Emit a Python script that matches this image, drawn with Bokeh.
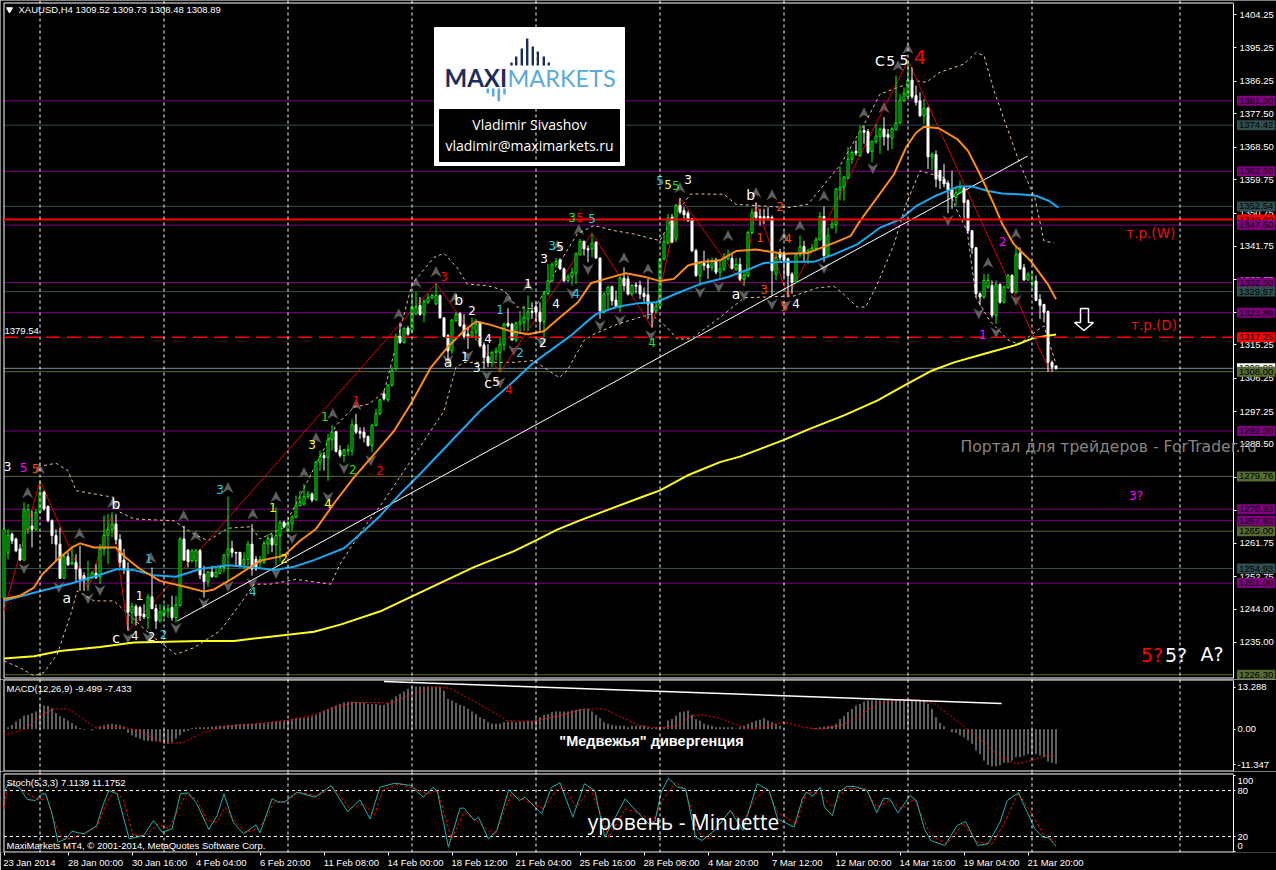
from bokeh.plotting import figure
from bokeh.layouts import column
from bokeh.models import Range1d, Span, Label, FixedTicker, ColumnDataSource, LinearAxis
from bokeh.core.properties import value
from bokeh.embed import file_html
from bokeh.resources import INLINE

# ---------- candles: price values, one entry per H4 bar ----------
candle_kind = ("ggwwwggwgg" "wwwwwgwgww" "wggwggggww" "wwgwwwgwwg" "ggwggwwggw"
               "wgwggggwww" "ggwwgggwgg" "wggggggwgg" "wggwwgggww" "wwgggwgggw"
               "gwggwggggw" "wwggwwwggw" "wwggggwwgg" "ggwwwggggw" "wgggg" "wwgww"
               "ggwwgwwgww" "wwwggggwgw" "wwwwgwwgwg" "ggwgwgggww" "wwwgwwwwgg"
               "wggggwgggg" "gggwgwwggg" "wwgggggwww" "gwgwwwwwgg" "wwwwwggwgw"
               "ggwgwwggww" "wwww")
body_top = [
 1265.5,1263.9,1264.2,1262.9,1260.2,1270.8,1270.8,1266.4,1270.1,1275.5,
 1275.5,1271.7,1267.8,1263.8,1261.5,1258.1,1258.1,1256.6,1256.6,1254.8,
 1253.0,1252.5,1253.7,1253.7,1260.2,1263.9,1265.5,1266.9,1266.9,1262.7,
 1257.2,1254.8,1244.7,1244.7,1244.4,1242.6,1247.3,1247.3,1244.1,1243.2,
 1243.8,1244.1,1244.4,1245.1,1262.9,1262.9,1259.9,1259.7,1259.7,1259.7,
 1253.4,1254.0,1254.0,1253.9,1255.2,1258.6,1260.2,1260.3,1259.3,1259.3,
 1257.4,1261.5,1261.5,1257.4,1257.4,1261.7,1263.1,1263.1,1263.8,1267.4,
 1267.4,1267.4,1268.9,1271.9,1272.8,1274.3,1275.0,1275.0,1283.6,1285.1,
 1285.4,1289.6,1291.7,1291.8,1286.7,1286.9,1286.9,1293.7,1293.7,1291.9,
 1291.7,1290.5,1293.5,1296.6,1300.4,1302.0,1304.3,1308.3,1317.5,1317.5,
 1319.7,1319.7,1325.5,1325.5,1325.8,1326.9,1327.9,1328.5,1328.5,1328.5,
 1322.5,1317.7,1321.9,1323.5,1323.7,1320.6,1318.1,1318.6,1320.8,1321.3,
 1315.2,1312.0,1313.2,1313.6,1315.4,1320.8,1321.0,1320.8,1321.1,1321.5,
 1322.6,1324.1,1324.2,1325.5,1324.0,1329.2,1332.5,1336.8,1337.7,1338.1,
 1335.7,1333.6,1334.8,1339.7,1343.1,1343.1,1341.1,1342.6,1342.9,1338.6,
 1328.9,1330.7,1330.9,1327.3,1333.2,1333.2,1333.0,1331.2,1331.4,1331.2,
 1329.1,1328.7,1326.4,1325.5,1338.4,1343.0,1349.4,1349.6,1352.8,1352.8,
 1351.4,1350.7,1349.2,1340.6,1337.2,1337.2,1336.8,1337.8,1337.8,1335.7,
 1338.7,1339.2,1338.5,1336.9,1336.9,1334.0,1345.5,1351.0,1351.0,1349.8,
 1349.8,1349.8,1349.6,1338.7,1340.2,1339.9,1338.4,1334.3,1339.6,1341.7,
 1341.7,1340.6,1341.3,1343.5,1349.8,1349.8,1344.7,1347.8,1357.2,1357.7,
 1360.4,1365.3,1367.1,1367.4,1372.7,1373.0,1372.7,1370.0,1371.5,1373.4,
 1373.4,1371.9,1373.4,1375.0,1381.2,1383.0,1386.6,1386.6,1382.4,1381.0,
 1379.0,1379.0,1366.5,1366.5,1362.2,1359.9,1358.8,1357.2,1356.2,1357.5,
 1357.5,1354.1,1346.0,1341.4,1329.0,1332.6,1332.6,1331.2,1331.5,1331.5,
 1330.8,1333.9,1333.9,1339.6,1339.9,1336.0,1334.3,1332.1,1332.4,1327.4,
 1326.1,1324.2,1310.5,1309.52]
body_bot = [
 1247.1,1259.3,1262.4,1259.7,1257.2,1257.2,1265.5,1265.5,1265.5,1270.1,
 1271.0,1267.8,1263.8,1261.5,1252.3,1252.3,1255.9,1256.1,1254.8,1252.1,
 1251.8,1251.6,1252.5,1252.5,1252.7,1260.2,1263.9,1265.5,1262.7,1256.6,
 1254.8,1243.1,1243.1,1242.2,1242.2,1241.9,1241.7,1244.1,1240.8,1240.8,
 1242.2,1243.5,1241.7,1241.7,1244.9,1257.2,1256.8,1257.0,1257.0,1253.2,
 1251.4,1251.4,1252.7,1252.7,1253.6,1255.2,1258.6,1259.3,1259.1,1255.7,
 1256.1,1257.4,1254.8,1254.8,1256.6,1256.6,1261.5,1261.3,1261.3,1263.8,
 1266.2,1265.1,1267.1,1268.7,1271.9,1272.3,1274.3,1273.4,1273.4,1283.6,
 1284.8,1284.8,1289.6,1286.5,1285.4,1285.4,1286.7,1286.7,1291.7,1291.4,
 1290.3,1288.1,1288.1,1293.5,1296.6,1300.7,1300.4,1304.3,1308.8,1315.9,
 1315.9,1318.1,1319.0,1323.5,1323.4,1323.5,1326.7,1327.9,1326.2,1322.5,
 1317.5,1313.6,1313.6,1321.7,1320.4,1317.5,1317.5,1317.5,1318.6,1315.0,
 1311.8,1310.5,1310.5,1313.2,1313.2,1315.2,1320.4,1316.5,1316.5,1320.8,
 1321.3,1322.2,1324.0,1324.0,1321.5,1321.5,1329.1,1332.5,1336.8,1335.7,
 1332.5,1332.5,1333.6,1334.5,1339.5,1341.1,1340.8,1341.1,1338.6,1324.4,
 1324.0,1328.9,1327.1,1325.5,1325.3,1331.2,1328.9,1328.9,1331.0,1328.9,
 1328.2,1326.2,1324.0,1324.4,1325.5,1338.4,1342.6,1342.9,1343.8,1351.0,
 1350.3,1348.7,1340.6,1333.9,1333.9,1336.6,1336.0,1336.0,1334.8,1334.8,
 1335.6,1338.5,1335.8,1335.6,1332.9,1332.9,1333.9,1345.5,1349.6,1349.4,
 1349.2,1349.4,1335.2,1334.3,1338.8,1338.1,1333.9,1332.1,1332.1,1339.6,
 1339.9,1339.9,1340.6,1341.1,1343.5,1339.3,1339.3,1346.9,1347.6,1357.0,
 1357.7,1360.2,1365.3,1366.9,1366.2,1372.5,1367.1,1367.3,1370.0,1371.3,
 1371.3,1371.2,1371.0,1373.2,1375.0,1381.0,1382.1,1382.1,1380.6,1377.0,
 1377.0,1365.9,1365.9,1359.9,1359.5,1358.6,1357.0,1355.0,1355.0,1356.2,
 1353.6,1346.0,1341.4,1329.0,1328.1,1328.1,1330.8,1323.2,1323.2,1326.7,
 1326.7,1330.6,1329.4,1329.4,1335.7,1332.7,1332.7,1331.7,1327.2,1325.8,
 1324.0,1310.5,1309.2,1308.89]
highs = [
 1265.5,1265.5,1264.6,1263.3,1261.5,1272.8,1272.3,1270.5,1271.0,1278.6,
 1275.9,1271.9,1268.2,1265.5,1266.0,1258.8,1259.3,1261.1,1258.8,1261.1,
 1253.9,1257.0,1254.3,1256.1,1261.5,1269.2,1269.6,1270.1,1269.6,1264.2,
 1260.2,1256.6,1245.8,1245.3,1244.9,1245.3,1248.0,1255.2,1245.3,1245.3,
 1245.3,1245.3,1247.6,1247.6,1263.3,1266.4,1260.2,1260.2,1260.2,1260.2,
 1255.7,1254.3,1255.7,1255.4,1255.7,1258.8,1274.3,1262.4,1259.4,1259.4,
 1259.3,1262.4,1266.9,1258.3,1258.3,1262.4,1264.2,1264.2,1271.4,1267.8,
 1267.8,1267.8,1269.2,1274.6,1275.9,1277.7,1275.9,1275.5,1284.0,1286.7,
 1286.3,1291.2,1293.5,1291.8,1288.1,1287.2,1288.3,1295.2,1296.6,1293.0,
 1293.0,1290.8,1293.9,1298.0,1300.7,1302.9,1304.7,1309.2,1318.3,1321.2,
 1319.9,1320.3,1329.4,1329.4,1328.1,1327.6,1329.0,1329.0,1331.8,1328.8,
 1322.7,1318.1,1322.2,1324.0,1324.0,1323.5,1319.9,1322.6,1322.2,1321.5,
 1315.9,1315.4,1313.6,1314.5,1317.2,1321.2,1325.1,1321.2,1321.5,1324.4,
 1325.8,1328.5,1326.7,1326.7,1326.7,1329.6,1337.0,1337.5,1338.6,1338.6,
 1336.1,1334.3,1336.1,1340.2,1343.8,1343.3,1342.0,1345.1,1343.1,1338.8,
 1329.4,1331.2,1331.2,1329.8,1333.6,1336.1,1333.9,1331.6,1332.1,1332.5,
 1330.7,1333.0,1326.7,1326.7,1338.6,1345.1,1350.5,1350.5,1353.2,1354.8,
 1352.3,1351.4,1349.4,1341.1,1337.5,1340.6,1338.4,1338.7,1338.7,1337.8,
 1340.0,1340.9,1339.6,1338.7,1338.7,1335.1,1346.0,1351.9,1353.6,1351.9,
 1351.9,1352.3,1350.1,1339.7,1341.1,1340.6,1338.8,1334.8,1339.7,1344.7,
 1343.3,1341.1,1342.4,1344.2,1351.0,1352.5,1346.9,1349.2,1357.5,1363.3,
 1360.8,1368.5,1367.6,1370.3,1374.3,1374.3,1373.4,1370.3,1374.7,1373.9,
 1376.6,1373.4,1373.9,1387.8,1382.8,1384.6,1391.6,1390.0,1385.1,1383.3,
 1381.5,1379.4,1367.1,1367.6,1362.2,1364.0,1359.5,1362.2,1357.7,1359.5,
 1357.7,1354.5,1346.2,1341.6,1329.4,1334.3,1334.3,1332.6,1332.6,1331.8,
 1331.2,1334.3,1334.3,1342.0,1341.5,1337.0,1334.8,1335.2,1333.9,1328.9,
 1326.3,1324.5,1311.0,1309.73]
lows = [
 1247.1,1257.4,1261.5,1259.3,1257.0,1257.0,1264.2,1260.6,1265.1,1270.1,
 1270.5,1267.4,1261.5,1257.0,1252.1,1252.1,1255.7,1255.9,1251.6,1248.9,
 1248.9,1248.9,1252.1,1252.1,1250.7,1258.4,1256.1,1263.3,1261.5,1255.2,
 1253.4,1238.2,1240.0,1239.5,1240.8,1241.3,1238.6,1244.0,1238.6,1240.4,
 1241.7,1241.7,1240.8,1240.4,1244.9,1257.0,1255.2,1256.6,1255.2,1252.1,
 1247.1,1250.0,1252.5,1252.5,1253.4,1253.9,1251.6,1257.9,1255.7,1255.2,
 1254.8,1255.7,1253.0,1254.3,1254.8,1256.1,1258.8,1259.3,1255.7,1257.0,
 1265.8,1264.7,1265.1,1268.5,1271.7,1271.9,1273.7,1272.8,1273.2,1281.3,
 1281.3,1278.6,1286.7,1286.2,1284.8,1283.6,1285.4,1285.4,1291.2,1289.9,
 1288.9,1287.8,1286.3,1293.2,1296.4,1300.2,1299.8,1304.0,1308.3,1315.5,
 1315.5,1317.7,1318.6,1323.4,1323.1,1321.3,1326.3,1327.5,1326.1,1322.3,
 1317.2,1311.0,1312.7,1321.5,1320.0,1316.8,1314.1,1317.2,1316.4,1314.5,
 1308.8,1309.2,1309.2,1311.0,1307.9,1313.6,1319.9,1316.3,1315.9,1318.1,
 1319.0,1319.0,1322.2,1321.3,1319.0,1317.2,1328.5,1332.1,1336.1,1335.4,
 1332.1,1332.1,1331.2,1331.6,1339.3,1339.3,1337.5,1338.8,1338.4,1322.2,
 1323.5,1324.4,1325.8,1325.1,1324.0,1329.8,1328.5,1328.5,1329.1,1327.6,
 1326.2,1322.2,1319.9,1323.5,1325.3,1337.9,1342.4,1342.6,1342.9,1350.5,
 1348.7,1348.3,1340.2,1333.5,1331.2,1335.3,1333.0,1335.1,1334.2,1333.3,
 1335.1,1337.8,1335.6,1335.1,1332.4,1331.1,1333.4,1345.1,1348.7,1347.4,
 1347.8,1348.7,1328.5,1332.6,1337.9,1333.4,1328.1,1329.0,1331.7,1338.8,
 1337.5,1337.0,1340.2,1340.6,1343.3,1337.5,1339.0,1346.5,1345.3,1354.1,
 1354.1,1359.9,1364.0,1366.2,1366.0,1369.4,1366.7,1364.4,1369.4,1366.7,
 1368.9,1367.6,1368.0,1373.0,1374.8,1380.6,1381.9,1381.5,1379.7,1376.6,
 1374.8,1362.6,1362.2,1357.7,1357.2,1357.7,1350.7,1351.9,1352.8,1355.9,
 1348.7,1345.1,1339.7,1328.1,1325.8,1327.6,1330.3,1322.5,1320.9,1326.3,
 1326.4,1330.3,1329.0,1329.0,1335.4,1332.5,1332.5,1329.9,1327.0,1322.2,
 1321.3,1307.9,1307.9,1308.48]

# ---------- moving averages and bands (bar, price) vertices ----------
orange_ma = [(0,1246.7),(4,1247.6),(7.5,1249.8),(9.6,1253.4),(13,1257),(17,1260.6),(19,1261.7),(22.5,1260.6),(28,1260.6),
 (30.4,1257.9),(34,1254.8),(39,1251.6),(45,1250.1),(50,1248.7),(52.5,1249.3),(57.5,1252.5),(64,1257),(70,1258.4),(74,1262.4),
 (78,1265.6),(83,1273.2),(87.5,1279.5),(93,1286.3),(97.5,1292),(101.7,1299.3),(106.7,1309.1),(110.8,1314.5),(115,1319),(118,1321.5),
 (121.7,1320.6),(126.7,1318.9),(131,1318.1),(135,1318.9),(138.5,1322.2),(143.5,1326.7),(146.7,1331.8),(151,1333.2),(155.5,1334.5),
 (160,1333.6),(164,1332.4),(167.5,1333),(171,1336.6),(174,1337.5),(179,1338),(183,1340.5),(188,1340.9),(195,1339.8),(201,1340),
 (207.5,1342.7),(211.7,1344.6),(214,1348.6),(218,1354.5),(222.5,1361.2),(225.5,1368.4),(228,1372.4),(230,1374),(233.7,1373.6),
 (238.3,1370.7),(241,1367.5),(244,1361.2),(247.5,1353),(249.6,1347.7),(252.5,1342.3),(256.7,1337.8),(261,1331.5),(263,1327.5)]
blue_ma = [(0,1246.2),(7.5,1248.4),(16.7,1250.9),(23.3,1253),(28.3,1254.8),(32.5,1254.5),(37.5,1253.1),(43,1252.7),(49,1254.8),
 (56,1255.8),(62.5,1255.2),(67.5,1254.5),(72.5,1255.4),(77.5,1257.2),(85,1260.4),(90,1265.1),(94,1269.1),(99,1275),(104,1280.4),
 (119,1297.4),(125.7,1303.7),(132.5,1310.5),(141.7,1317.7),(145,1320.8),(148,1323.5),(153.3,1325.5),(158.3,1326.4),(163,1326.7),
 (168,1329),(174,1331.6),(181,1333.5),(186.7,1335.8),(190,1337.3),(195,1337.6),(202.5,1337.6),(207.5,1339.6),(213.3,1342.3),
 (219,1346.8),(224,1349),(228,1352.6),(232.5,1355.2),(238.3,1357.8),(241.7,1358),(246,1356.7),(249.5,1356),(253.7,1355.8),
 (258,1355.4),(261.3,1354),(263.6,1352.2)]
yellow_ma = [(0,1230.7),(7.5,1231.3),(14,1232.7),(24,1233.8),(32.5,1235),(49,1235.4),(57.5,1235.4),(66,1236.5),(77.5,1237.9),
 (84.1,1239.8),(94.1,1243.4),(102,1247.4),(109,1251),(117.5,1255.3),(127.5,1259.6),(133,1262.5),(138.3,1265.4),(144,1267.9),
 (151.6,1271),(159,1274),(164,1276),(170.8,1280),(179,1283.6),(184,1285.1),(195,1289.6),(200.8,1292.3),(210,1296.2),(218.3,1300.2),
 (225.8,1304.7),(231.6,1308.1),(237.5,1310.5),(245.8,1313),(252.5,1315),(257.5,1317.1),(263,1318)]
band_upper = [(10,1282.7),(13,1283.3),(16,1281.3),(18,1275.9),(27.5,1274.1),(29,1270.1),(32.5,1268.3),(42.5,1267.8),(46.7,1264.7),
 (51,1262.4),(56,1265.8),(61.7,1266.2),(64,1262.9),(70,1266),(83,1293.5),(87.5,1298.4),(91.3,1299.3),(95,1302.5),(102,1331.6),
 (107.5,1338.8),(110,1339.9),(113.3,1336),(115.8,1331.6),(120.8,1331.2),(125,1329.9),(128.3,1325.4),(132.5,1324.9),(135.8,1330.7),
 (140,1339.3),(143.3,1345.1),(147.5,1347.4),(152.5,1346),(157.5,1345.1),(164,1343.3),(166.7,1348.7),(171.7,1355.9),(180,1355.8),
 (183,1353.1),(196,1352.2),(201,1353.1),(209.2,1363.9),(216,1376.5),(219,1382.8),(228,1386.4),(230.6,1386),(234,1388.7),
 (240,1390.9),(243,1394),(245,1393.2),(247.5,1383.7),(251,1373),(254,1363.9),(257.7,1354.9),(260,1343.2),(262.5,1342.7)]
band_lower = [(0,1230),(4,1228.2),(7.5,1226),(10,1226.9),(13.3,1231.8),(16.7,1242.6),(18.3,1248.9),(22.5,1246.2),(27.5,1246.2),
 (37.5,1236.3),(43,1231.8),(47.5,1233.6),(54,1238.1),(59,1245.3),(62.5,1250.7),(66.5,1250.7),(73,1252),(81.7,1250.7),(84,1256.1),
 (90,1266),(95,1273.2),(110,1297.4),(113,1309.2),(115,1310.5),(127.5,1310.5),(132.5,1311),(136.7,1307.9),(138.8,1306.4),
 (140.8,1308.3),(145,1316.4),(147.5,1318.1),(153.3,1320.8),(161.7,1323.5),(165.8,1319.9),(168.3,1316.8),(171.7,1316.8),(179,1322.6),
 (185,1327.9),(197.5,1328.4),(203.3,1330.6),(207.5,1331),(210,1328.8),(213.3,1325.4),(215.4,1325.4),(218.3,1331.5),(222.5,1342.3),
 (225.5,1353.1),(229,1362.1),(235,1360.3),(238.3,1351.3),(240.8,1345.9),(243,1327.9),(246.5,1321.6),(251,1316.6),(253.7,1315.3),
 (258,1318.9),(260,1320.3),(263,1310)]
zigzag = [(0,1243.5),(9,1278.6),(21,1249.4),(27,1269.4),(31,1238.1),(108,1331.8),(124,1307.7),(147,1345.4),(162,1319.9),(169,1354.8),
 (185,1331.1),(188,1353.6),(196,1328),(226,1391.8),(261.6,1307.7)]
trendline = [(43.3,1240.8),(255.9,1366.1)]

# ---------- horizontal levels ----------
purple_levels = [1381.00,1362.00,1347.50,1332.00,1323.89,1292.00,1270.93,1267.82,1251.00]
slate_levels = [1374.42,1352.54,1329.57,1254.93]
olive_levels = [1308.00,1279.76,1265.00,1226.30]
red_level = 1349.00
red_dashed_level = 1317.25
last_price = 1308.89

# ---------- fractal arrows (bar, price) ----------
fractals_up = [(8.9,1281.9),(5.9,1275.4),(18.9,1264.4),(27.2,1272.7),(44.9,1269.2),(47.9,1263.8),(56,1276.8),(36.7,1257.9),(62.2,1269.7),
 (68,1274.3),(75,1280.8),(82.2,1296.7),(88,1299.1),(78,1290.2),(103,1332),(98.7,1323.6),(108,1335),(112.7,1328),(126,1327.7),(131,1331.2),
 (143.7,1346.3),(138.4,1342),(155,1338.7),(161,1335.8),(169,1357.6),(181,1344.7),(188,1356.3),(192,1355.7),(195,1344.4),(199,1347.4),
 (205,1355.4),(215,1377.8),(220,1379.2),(226,1395.1),(223.5,1390.5),(246,1337.4),(253,1345.2)]
fractals_down = [(5,1254.9),(13.7,1249.8),(21,1246.8),(24,1249),(31,1236.1),(36,1236.3),(43,1238.8),(50,1245.5),(56,1250.1),(62,1250.9),
 (68,1253.6),(72,1263),(81,1274.1),(85,1281.9),(91.7,1284),(111,1311),(116,1312.3),(120.7,1306.9),(124,1305),(127.4,1313.7),(134.4,1315.8),
 (142,1329),(146,1335.5),(149,1320.4),(154,1321.8),(161.7,1317.7),(174,1329.3),(178.7,1330.7),(185,1328.5),(192,1326.1),(195.4,1325.8),
 (205,1335.8),(217.2,1362.7),(236,1348.7),(243.7,1323.6),(248,1318.5),(253,1327.2)]

# ---------- wave labels (bar, price, text) ----------
waves_white = [(0.9,1282.4,"3"),(32.7,1236.9,"4"),(36.9,1236.6,"2"),(33.9,1247.6,"1"),(117,1324.5,"2"),(115.2,1312.1,"1"),(118.2,1309.1,"3"),
 (121,1316.9,"4"),(123,1305.3,"5"),(134.7,1315.8,"2"),(131,1331.7,"1"),(135,1338.5,"3"),(138,1326.3,"4"),(139,1341.7,"5"),(171,1359.8,"3"),
 (198,1326.3,"4")]
waves_white_big = [(28,1272.4,"b"),(15.7,1247.1,"a"),(28,1236.3,"c"),(113.7,1327.2,"b"),(111,1310.7,"a"),(121,1305,"c"),(183,1329,"a"),
 (186.7,1355.7,"b"),(219,1391.8,"C"),(221.7,1391.8,"5"),(225,1392.1,"5")]
waves_magenta = [(4.9,1282.1,"5"),(244.7,1318,"1"),(249.7,1343.1,"2"),(283,1274.6,"3?")]
waves_orange = [(7.9,1281.9,"5"),(190,1330.1,"3"),(195,1325.5,"5"),(194,1352.5,"2"),(189,1344.1,"1"),(196,1343.9,"4")]
waves_cyan = [(39.9,1237.1,"2"),(36.2,1257.6,"1"),(54,1276.2,"3"),(62.2,1248.7,"4"),(124,1324.7,"1"),(129,1313.1,"2"),(137,1342,"3"),
 (143,1329,"4"),(147,1349.2,"5"),(164,1359.5,"5")]
waves_yellow = [(67.2,1271.4,"1"),(70,1257.6,"2"),(77,1288.3,"3"),(81,1272.4,"4"),(166,1358.4,"5")]
waves_green = [(87.2,1281.6,"2"),(80.2,1295.9,"1"),(142,1349.5,"3"),(162,1315.8,"4"),(168,1358.1,"5")]
waves_red = [(94,1281.3,"2"),(88,1300.2,"1"),(110,1333.6,"3"),(126.2,1303.2,"4"),(144,1349.5,"5")]

# ---------- MACD ----------
macd_hist = [
 0.0,.6,1.3,2.4,3.2,4.3,4.5,5.1,5.6,7.7, 7.5,7.3,6.6,5.1,4.1,3.5,2.7,1.9,1.1,.3,
 -.2,0.0,-.4,.1,.9,1.2,1.6,1.7,1.5,1.2, .8,-1.2,-2.0,-2.6,-3.1,-3.6,-3.8,-3.9,-3.9,-4.1,
 -4.7,-4.7,-4.2,-3.1,-2.0,-.9,-.5,.3,.5,.6, .6,.6,.8,.9,1.1,1.1,1.3,1.3,1.6,1.6,
 1.6,1.7,1.7,1.7,1.9,1.9,2.0,2.2,2.4,2.6, 2.7,2.9,3.2,3.5,3.5,3.6,3.8,4.1,4.5,5.1,
 5.9,6.4,7.0,7.5,8.0,8.5,8.7,8.7,8.7,8.5, 8.3,8.0,8.0,8.0,7.7,7.7,8.3,9.4,10.4,11.2,
 11.9,12.8,13.5,13.5,13.5,13.5,13.5,13.5,13.5,13.5, 12.2,9.6,9.1,8.3,7.7,7.3,6.4,5.6,4.8,3.8,
 3.2,2.2,1.7,1.7,1.7,2.2,2.4,2.4,2.2,2.4, 2.4,2.7,2.7,3.2,3.8,4.5,4.8,5.4,5.6,5.6,
 5.6,5.6,5.9,6.1,6.4,6.4,6.4,5.6,4.5,3.5, 2.2,1.7,1.3,1.1,1.1,1.1,.6,1.1,1.1,1.1,
 1.1,.6,.3,.6,.9,.6,2.7,3.2,4.3,5.4, 5.6,5.9,4.5,3.2,2.7,1.7,1.3,1.1,.6,.6,
 .6,.6,.6,.1,.6,1.1,1.7,2.2,2.7,3.0, 3.5,2.7,2.2,1.7,1.1,.1,-.1,-.1,0,0,
 .1,.1,.2,.3,.6,.8,.9,1.1,1.7,3.2, 4.1,5.4,6.4,7.5,8,8.7,9.1,9.1,9.1,9.1,
 9.1,9.1,9.1,9.1,9.1,9.1,9.1,9.1,9.1,9.1, 9.1,8,6.4,3.8,2,.9,0,-1,-1.2,-2,
 -2.6,-3.6,-4.7,-6.8,-7.9,-10,-11.4,-11.8,-11.8,-11.4, -10.7,-10.7,-10,-8.9,-8.9,-8.4,-8,-8,-8,-8.4,
 -8.9,-10.3,-10.7,-11]
macd_signal = [(0,-2),(5.3,0),(9.4,4.5),(12.5,6.4),(16,6.4),(18.6,4.3),(22.7,.6),(30,.6),(34,-.5),(38,-3.6),(42,-4.5),(45,-4.2),(49,-1.5),
 (54.3,.6),(62.4,1.6),(70.6,2.7),(76.7,4.3),(83,7),(88,8.5),(97,8.3),(102,11.2),(107,13.3),(111.4,13),(116.5,9.6),(121.6,5.9),(125.7,2.7),
 (131.8,2.4),(139,4.3),(145,6.4),(150,6.4),(155.3,3.2),(159,1.1),(163.3,.3),(168.4,1.1),(172,4.3),(175,4.5),(179.6,3.2),(183.7,1.1),(187,0),
 (195,2.2),(200,.6),(204,-.1),(209,1.1),(214.3,4.3),(218,8),(224.5,9.4),(228.5,9.4),(232.7,8),(236.5,4.3),(240.8,0),(245,-4.2),(249,-8.9),
 (253,-11),(257,-10),(261,-8.2),(263,-8.7)]
macd_divergence = [(95,15.1),(249.4,8.1)]

# ---------- Stochastic ----------
stoch_main = [(0,78),(1.2,88.8),(3.8,84.4),(5.8,68.3),(7.9,67),(9.4,75.7),(10.4,75.7),(11.9,51.8),(13.5,12.7),(14.5,14.9),(15.5,17),(17,27),(18.6,24.9),
 (20.1,23.6),(23.2,34.4),(24.7,60.5),(26.2,80),(28.3,75.7),(31.3,17),(34.9,21.4),(37.4,41),(39.5,25.7),(42,30),(44.1,75.7),(46.1,77),(48.2,62.7),
 (51.2,29.2),(53.3,47.5),(55,75.7),(57.3,38.8),(59.9,23.6),(63,35.3),(64,24.9),(67,69.2),(68.6,64.9),(70.1,64.9),(73.2,77.9),(77.8,71.4),(81.8,86.6),
 (85.9,52.7),(89,67.9),(91.5,43.1),(94,84.4),(97.7,89.6),(101.7,86.6),(104.8,71.4),(107.3,84.4),(108.4,77.9),(111.1,6.2),(114,57),(115,57),(117.6,41),
 (118.6,45.3),(121.1,17),(123.2,27.9),(126.2,81.4),(128.8,67),(130.3,71.4),(134.4,49.6),(136.9,84.4),(139,90),(142.2,45.3),(145.1,88.8),(147.7,80),
 (150.2,19.2),(155.3,69.2),(159.2,47),(161.2,36.6),(162.7,38.8),(164.3,77.9),(166.1,96.1),(168.4,84.4),(170.4,82.2),(172.9,19.2),(174.5,14.9),(177.6,27.9),
 (181.6,54),(184.7,27.9),(188.3,88.8),(191.3,80),(193.4,43.1),(197.5,32.3),(199.6,69.2),(200.6,77.9),(202.2,72.7),(204.1,84.4),(205.1,58.3),(207.1,47.5),
 (208.7,77.9),(210.7,85.3),(212.8,85.3),(215.8,80),(218.2,51),(219.9,70),(221.4,69.2),(223.5,51),(226.5,73.5),(228.1,67),(230.1,30),(231.7,14.9),(235.2,8.4),
 (238.3,34.4),(240.4,39.6),(243.4,8.4),(246,10.5),(249,38.8),(250.8,67),(253.6,77),(257.7,30),(259.7,19.2),(261.2,18.4),(263,7.5)]
stoch_signal = [(0,56),(0.7,78),(2.2,88.8),(5.3,78),(8.4,68.3),(10.9,69.2),(12.4,43),(14.5,17),(16.5,17),(19.6,23.6),(23.2,32.3),(25.7,64.9),(27.7,80),(29.8,69.2),
 (32.3,21.4),(35.4,21.4),(38.5,36.6),(41,30),(43.3,51.8),(45.6,75.7),(48.2,68.3),(50.7,41),(53.3,38.8),(55.3,58.3),(57.9,38.8),(60.4,25.7),(63.5,30),(65.5,43),
 (67.5,64.9),(70.6,65.7),(73.7,77.9),(78.3,72.7),(82.3,84.4),(86.5,56.2),(90,62.7),(92.6,47.5),(94.6,80),(98.7,88.8),(102.8,82.2),(105.8,75.7),(108.4,80),
 (111.9,17),(115,51.8),(118.6,38.8),(122.7,21.4),(126.8,75.7),(130.8,65.7),(134.9,56.2),(138,80),(140,84.4),(143.1,58.3),(146.6,82.2),(149,51.8),(151.2,19.2),
 (155.3,56.2),(159.2,50),(162.2,38.8),(164.8,69.2),(168,90.9),(170.4,80),(173.5,25.7),(176,17),(178.6,34.4),(181.6,54),(184.7,38.8),(187.8,69.2),(190.8,82.2),
 (193.4,51.8),(198,36.6),(200.6,77.9),(204.1,75.7),(207.1,58.3),(210.2,82.2),(215.3,83.1),(218.2,58.3),(221.4,67),(224.5,56.2),(227.6,69.2),(231.7,21.4),
 (235.7,10.5),(239.8,36.6),(243.4,12.7),(247,10.5),(250,36.6),(253.6,77),(257.7,43.1),(259.7,23.6),(263,12.7)]

# ---------- axes ----------
period_separators = [9,40,71,102,133,164,195,226,257,294]
price_ticks = [1404.25,1395.25,1386.25,1377.50,1368.50,1359.75,1350.75,1341.75,1332.75,1324.00,1315.25,1306.25,1297.25,1288.50,1279.50,
               1270.50,1261.75,1252.75,1244.00,1235.00]
date_ticks = [0,16,32,48,64,80,96,112,128,144,160,176,192,208,224,240,256]
date_labels = ["23 Jan 2014","28 Jan 00:00","30 Jan 16:00","4 Feb 04:00","6 Feb 20:00","11 Feb 08:00","14 Feb 00:00","18 Feb 12:00","21 Feb 04:00",
               "25 Feb 16:00","28 Feb 08:00","4 Mar 20:00","7 Mar 12:00","12 Mar 00:00","14 Mar 16:00","19 Mar 04:00","21 Mar 20:00"]
macd_ticks = [13.288,0,-11.347]
macd_tick_labels = ["13.288","0.00","-11.347"]

# ---------- scale helpers: page pixel of the reference -> bar / price, for decorations only ----------
BAR_PX, X0 = 4.0, 3.5
def bx(px): return (px - X0) / BAR_PX
def py(y): return 1381 - (y - 100.3) / 3.71
def my_from_y(y): return (728.6 - y) / 3.15
def sy_from_y(y): return (851.4 - y) / 0.767
AX = bx(1233)
FONT = "Liberation Sans"
TICK = "9.5px"

def panel(height, frame_h, y0, y1, bottom=0, axis=False):
    f = figure(width=1276, height=height, frame_width=1276, frame_height=frame_h,
               x_range=Range1d(bx(0), bx(1276)), y_range=Range1d(y0, y1), output_backend="svg",
               toolbar_location=None, tools="", y_axis_location=None,
               x_axis_location="below" if axis else None,
               background_fill_color="black", border_fill_color="black",
               min_border_left=0, min_border_right=0, min_border_top=0, min_border_bottom=bottom)
    f.grid.visible = False
    f.outline_line_color = None
    for s in period_separators:
        f.add_layout(Span(location=s, dimension="height", line_color="white", line_width=1, line_dash="3 3", level="glyph"))
    return f

def right_axis(f, ticks, labels, tick_out, standoff, bounds):
    ax = LinearAxis(fixed_location=AX, ticker=FixedTicker(ticks=ticks),
                    major_label_overrides=dict(zip(ticks, labels)),
                    axis_line_color="white", major_tick_line_color="white", minor_tick_line_color=None,
                    major_label_text_color="white", major_label_text_font=FONT, major_label_text_font_size=TICK,
                    major_tick_in=0, major_tick_out=tick_out, major_label_standoff=standoff, bounds=bounds)
    f.add_layout(ax, "right")
    return ax

def frame_lines(f, top, bottom):
    # top, bottom and left rules of a pane; the right one is the axis line
    f.line([bx(3.5), AX], [top, top], line_color="white", line_width=1)
    f.line([bx(3.5), AX], [bottom, bottom], line_color="white", line_width=1)
    f.line([bx(3.5), bx(3.5)], [bottom, top], line_color="white", line_width=1)

def xy(pairs):
    return [a for a, _ in pairs], [b for _, b in pairs]

def note(f, x, y, text, size=TICK, color="white", font=FONT, style="normal", align="left"):
    f.add_layout(Label(x=x, y=y, text=text, text_color=color, text_font=font, text_font_size=size, text_font_style=style,
                       text_baseline="middle", text_align=align))

# ---------- price panel ----------
p1 = panel(679, 679, py(679), py(0))
right_axis(p1, price_ticks, [f"{t:.2f}" for t in price_ticks], 3, 3, (py(677.5), py(2.5)))

x_full = [bx(3.5), AX]
for lev in purple_levels:
    p1.line(x_full, [lev, lev], line_color="#800080", line_width=1)
for lev in slate_levels:
    p1.line(x_full, [lev, lev], line_color="#2f4f4f", line_width=1)
for lev in olive_levels:
    p1.line(x_full, [lev, lev], line_color="#556b2f", line_width=1)
p1.line(x_full, [last_price, last_price], line_color="#778899", line_width=1)
frame_lines(p1, py(2.5), py(677.5))

idx = list(range(len(highs)))
src_g = ColumnDataSource(dict(x=[i for i in idx if candle_kind[i] == "g"],
                              top=[body_top[i] for i in idx if candle_kind[i] == "g"],
                              bot=[body_bot[i] for i in idx if candle_kind[i] == "g"],
                              hi=[highs[i] for i in idx if candle_kind[i] == "g"],
                              lo=[lows[i] for i in idx if candle_kind[i] == "g"]))
src_w = ColumnDataSource(dict(x=[i for i in idx if candle_kind[i] == "w"],
                              top=[body_top[i] for i in idx if candle_kind[i] == "w"],
                              bot=[body_bot[i] for i in idx if candle_kind[i] == "w"],
                              hi=[highs[i] for i in idx if candle_kind[i] == "w"],
                              lo=[lows[i] for i in idx if candle_kind[i] == "w"]))

# notched fractal arrows sit behind the candles
AW, AH, AN = 5 / BAR_PX, 5 / 3.71, 2 / 3.71
ux, uy = xy(fractals_up)
dx, dy = xy(fractals_down)
p1.patches([[a - AW, a, a + AW, a] for a in ux], [[b - AH, b + AH, b - AH, b - AN] for b in uy],
           fill_color="#5f5f5f", line_color="#5f5f5f", line_width=0.5)
p1.patches([[a - AW, a, a + AW, a] for a in dx], [[b + AH, b - AH, b + AH, b + AN] for b in dy],
           fill_color="#5f5f5f", line_color="#5f5f5f", line_width=0.5)

bx_u, by_u = xy(band_upper)
bx_l, by_l = xy(band_lower)
p1.line(bx_u, by_u, line_color="#e8c098", line_width=1, line_dash="3 3")
p1.line(bx_l, by_l, line_color="#e8c098", line_width=1, line_dash="3 3")

zx, zy = xy(zigzag)
p1.line(zx, zy, line_color="#e00000", line_width=1)
tx, ty = xy(trendline)
p1.line(tx, ty, line_color="white", line_width=1)

p1.segment("x", "lo", "x", "hi", source=src_g, line_color="#00ff00", line_width=1)
p1.segment("x", "lo", "x", "hi", source=src_w, line_color="white", line_width=1)
p1.vbar(x="x", top="top", bottom="bot", width=0.5, source=src_g, fill_color="black", line_color="#00ff00", line_width=1)
p1.vbar(x="x", top="top", bottom="bot", width=0.5, source=src_w, fill_color="white", line_color="white", line_width=1)

for pts, col, w in ((yellow_ma, "#ffff1a", 2), (blue_ma, "#18a8f0", 2), (orange_ma, "#ff8c14", 2)):
    mx, my = xy(pts)
    p1.line(mx, my, line_color=col, line_width=w)

p1.line(x_full, [red_level, red_level], line_color="#ff0000", line_width=2)
p1.line(x_full, [red_dashed_level, red_dashed_level], line_color="#ff0000", line_width=1.5, line_dash="14 7")

def waves(rows, color, size):
    wx = [r[0] for r in rows]
    wy = [r[1] for r in rows]
    wt = [r[2] for r in rows]
    p1.text(wx, wy, text=wt, text_color=color, text_font=value("DejaVu Sans"), text_font_size=size,
            text_align="center", text_baseline="middle")

waves(waves_white, "white", "12px")
waves(waves_white_big, "white", "14px")
waves(waves_magenta, "#ff00ff", "12px")
waves(waves_orange, "#ff4500", "12px")
waves(waves_cyan, "#20d0e0", "12px")
waves(waves_yellow, "#ffff00", "12px")
waves(waves_green, "#20e020", "12px")
waves(waves_red, "#ff0000", "12px")
waves([(229, 1392.9, "4")], "#ff0000", "19px")
waves([(287, 1231.5, "5?")], "#ff0000", "19px")
waves([(293, 1231.5, "5?"), (302, 1232, "A?")], "white", "19px")
waves([(286.7, 1345.5, "т.р.(W)"), (287.5, 1320.7, "т.р.(D)")], "#ee1010", "13.5px")

# hollow arrow on the right
p1.patch([bx(v) for v in (1080, 1088, 1088, 1093, 1083.5, 1074, 1080)],
         [py(v) for v in (308, 308, 322, 322, 330, 322, 322)],
         fill_color=None, line_color="white", line_width=1.5)

# logo
p1.quad(left=[bx(434)], right=[bx(624)], top=[py(27)], bottom=[py(165)], fill_color="white", line_color="white")
p1.quad(left=[bx(439)], right=[bx(619)], top=[py(109)], bottom=[py(161)], fill_color="black", line_color="black")
logo_dark_x = [511, 515.7, 521.3, 526.7, 532.3, 537.3, 543.3, 548.3]
logo_dark_top = [62, 56, 48, 38, 46, 51, 56, 62]
p1.quad(left=[bx(v - 1.2) for v in logo_dark_x], right=[bx(v + 1.2) for v in logo_dark_x],
        top=[py(v) for v in logo_dark_top], bottom=[py(65)] * 8, fill_color="#1b2d5a", line_color=None)
logo_blue_x = [487.3, 492.7, 498.3, 504]
logo_blue_bot = [92.7, 96, 100.7, 94]
p1.quad(left=[bx(v - 1.3) for v in logo_blue_x], right=[bx(v + 1.3) for v in logo_blue_x],
        top=[py(88)] * 4, bottom=[py(v) for v in logo_blue_bot], fill_color="#5aa9e0", line_color=None)
note(p1, bx(444), py(77), "MAXI", size="24px", color="#1b2d5a", font="Lato", style="bold")
note(p1, bx(507), py(77), "MARKETS", size="23.5px", color="#5aa9e0", font="Lato")
note(p1, bx(529), py(124), "Vladimir Sivashov", size="14px", font="Open Sans", align="center")
note(p1, bx(529), py(145), "vladimir@maximarkets.ru", size="14px", font="Open Sans", align="center")

note(p1, bx(18), py(9), "XAUUSD,H4  1309.52 1309.73 1308.48 1308.89")
p1.scatter([bx(9)], [py(9)], marker="inverted_triangle", size=6, fill_color="white", line_color="white")
note(p1, bx(4), py(330), "1379.54")
note(p1, bx(960), py(446), "Портал для трейдеров - ForTrader.ru", size="15.6px", color="#8a8480", font="DejaVu Sans")

# price tags on the scale
def tag(price, bg):
    p1.add_layout(Label(x=bx(1236.5), y=price, text=f"{price:.2f}", text_color="black", text_font=FONT, text_font_size=TICK,
                        text_baseline="middle", text_align="left", background_fill_color=bg, padding=2))
tag(last_price, "white")
tag(red_level, "#ff0000")
tag(red_dashed_level, "#ff0000")
for lev in purple_levels:
    tag(lev, "#800080")
for lev in slate_levels:
    tag(lev, "#2f4f4f")
for lev in olive_levels:
    tag(lev, "#556b2f")

# ---------- MACD panel ----------
p2 = panel(92, 92, my_from_y(771), my_from_y(679))
right_axis(p2, macd_ticks, macd_tick_labels, 2, 2, (my_from_y(770.5), my_from_y(679.5)))
frame_lines(p2, my_from_y(679.5), my_from_y(770.5))
hx = list(range(len(macd_hist)))
p2.segment(hx, [0] * len(hx), hx, macd_hist, line_color="#c0c0c0", line_width=1)
sx, sy = xy(macd_signal)
p2.line(sx, sy, line_color="#ff0000", line_width=1, line_dash="2 2")
ddx, ddy = xy(macd_divergence)
p2.line(ddx, ddy, line_color="white", line_width=1.5)
note(p2, bx(6), my_from_y(688), "MACD(12,26,9) -9.499 -7.433")
note(p2, bx(651), my_from_y(740), "\"Медвежья\" дивергенция", size="14.5px", font=FONT, style="bold", align="center")

# ---------- Stochastic panel ----------
p3 = panel(99, 81, sy_from_y(852), sy_from_y(771), bottom=18, axis=True)
right_axis(p3, [100, 80, 20, 0], ["", "80", "20", ""], 2, 2, (sy_from_y(851.5), sy_from_y(773.5)))
frame_lines(p3, sy_from_y(773.5), sy_from_y(851.5))
for lvl in (80, 20):
    p3.line([bx(3.5), AX], [lvl, lvl], line_color="white", line_width=1, line_dash="3 3")
smx, smy = xy(stoch_main)
ssx, ssy = xy(stoch_signal)
p3.line(ssx, ssy, line_color="#ff0000", line_width=1, line_dash="3 2")
p3.line(smx, smy, line_color="#20b2aa", line_width=1)
note(p3, bx(6), sy_from_y(782), "Stoch(5,3,3) 7.1139 11.1752")
note(p3, bx(6), sy_from_y(845), "MaxiMarkets MT4, © 2001-2014, MetaQuotes Software Corp.")
note(p3, bx(683), sy_from_y(821), "уровень - Minuette", size="21px", font="Open Sans", align="center")
note(p3, bx(1237), sy_from_y(780), "100")
note(p3, bx(1237), sy_from_y(845.7), "0")

# tick marks sit at the bar; MT4 starts each date text at its tick, so the texts hang on a second axis
x3 = p3.xaxis[0]
x3.ticker = FixedTicker(ticks=date_ticks)
x3.major_label_overrides = {t: "" for t in date_ticks}
x3.axis_line_color = None
x3.major_tick_line_color = "white"
x3.minor_tick_line_color = None
x3.major_tick_in = 0
x3.major_tick_out = 3
x3.major_label_standoff = 0
x3.major_label_text_font_size = "1px"
label_at = [t + len(s) * 4.45 / 2 / BAR_PX + 0.2 for t, s in zip(date_ticks, date_labels)]
x4 = LinearAxis(ticker=FixedTicker(ticks=label_at), major_label_overrides=dict(zip(label_at, date_labels)),
                axis_line_color=None, major_tick_line_color=None, minor_tick_line_color=None,
                major_tick_in=0, major_tick_out=0, major_label_standoff=1,
                major_label_text_color="white", major_label_text_font=FONT, major_label_text_font_size=TICK)
p3.add_layout(x4, "below")

page = column(p1, p2, p3, spacing=0)
open("out.html", "w").write(file_html(page, INLINE))
